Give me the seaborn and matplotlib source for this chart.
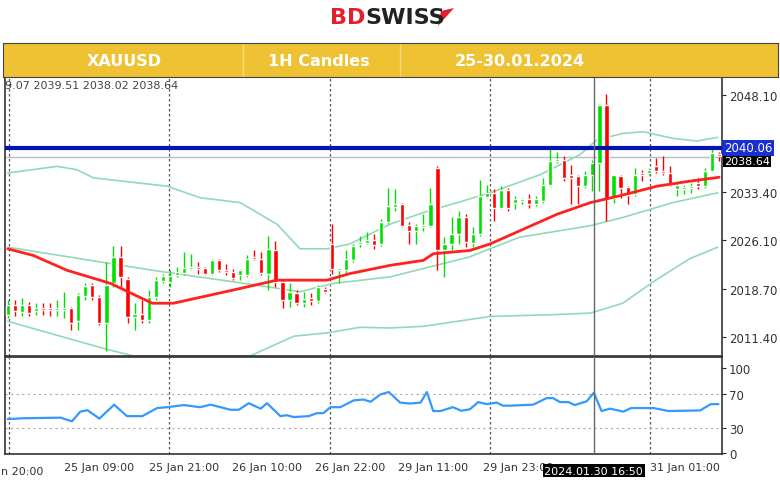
import numpy as np
import pandas as pd
import matplotlib
matplotlib.use("Agg")
import matplotlib.pyplot as plt
from matplotlib.patches import Polygon
import seaborn as sns

# hourly candles
opens = [2014.75, 2016.25, 2015.1, 2016.25, 2015.25, 2015.85, 2015.85, 2015.5, 2015.5, 2015.75,
         2013.75, 2017.6, 2019.25, 2017.5, 2013.5, 2019.5, 2023.5, 2020.1, 2014.4, 2014.9,
         2014.0, 2017.5, 2019.9, 2019.75, 2020.75, 2021.15, 2021.75, 2021.9, 2021.85, 2021.0,
         2023.1, 2021.6, 2021.25, 2020.75, 2020.85, 2023.5, 2023.25, 2021.0, 2024.5, 2019.75,
         2017.0, 2018.1, 2016.6, 2017.25, 2016.9, 2018.6, 2025.5, 2021.5, 2021.5, 2023.1,
         2025.5, 2025.6, 2026.1, 2025.5, 2028.75, 2031.15, 2031.6, 2028.4, 2027.4, 2028.1,
         2028.25, 2037.0, 2024.5, 2025.5, 2027.0, 2029.5, 2025.6, 2027.0, 2032.6, 2033.25,
         2031.0, 2033.6, 2031.75, 2032.0, 2032.25, 2031.5, 2032.0, 2034.5, 2038.0, 2038.25,
         2036.0, 2035.75, 2034.25, 2035.9, 2037.75, 2046.5, 2032.5, 2035.75, 2034.1, 2033.0,
         2036.25, 2036.25, 2037.25, 2036.5, 2036.25, 2033.75, 2033.75, 2034.0, 2034.75, 2034.25,
         2036.6, 2039.1]
closes = [2016.25, 2015.25, 2016.25, 2015.0, 2015.75, 2015.5, 2015.5, 2015.85, 2015.85, 2013.5,
          2017.75, 2019.1, 2017.4, 2013.5, 2019.25, 2023.5, 2020.5, 2014.4, 2014.9, 2014.0,
          2017.5, 2020.0, 2020.6, 2020.6, 2021.25, 2021.85, 2021.9, 2021.65, 2021.0, 2023.0,
          2021.5, 2021.2, 2020.4, 2021.5, 2023.25, 2023.25, 2021.1, 2024.75, 2019.75, 2017.0,
          2018.25, 2016.5, 2017.15, 2016.9, 2019.0, 2018.25, 2021.75, 2021.9, 2023.15, 2025.25,
          2025.75, 2026.1, 2025.4, 2028.75, 2031.25, 2031.5, 2028.25, 2027.4, 2028.25, 2028.4,
          2031.5, 2024.5, 2025.5, 2027.0, 2029.5, 2025.75, 2027.0, 2032.75, 2033.25, 2031.0,
          2033.6, 2031.0, 2032.25, 2032.25, 2031.6, 2032.25, 2034.5, 2038.0, 2038.4, 2035.5,
          2035.5, 2034.25, 2036.0, 2037.75, 2046.5, 2032.25, 2035.9, 2034.0, 2032.9, 2036.0,
          2035.9, 2036.75, 2036.5, 2036.25, 2034.5, 2034.5, 2034.1, 2034.35, 2034.25, 2036.6,
          2039.25, 2038.75]
highs = [2017.0, 2017.0, 2017.25, 2016.75, 2016.5, 2016.5, 2016.5, 2017.0, 2018.25, 2016.0,
         2018.0, 2019.5, 2019.5, 2017.75, 2022.75, 2025.25, 2025.25, 2020.5, 2016.5, 2017.0,
         2018.5, 2020.5, 2021.0, 2021.5, 2022.0, 2024.25, 2024.0, 2022.75, 2022.0, 2023.25,
         2023.25, 2022.5, 2021.75, 2021.75, 2023.75, 2024.5, 2024.25, 2026.75, 2026.0, 2020.0,
         2019.5, 2018.5, 2018.25, 2018.0, 2019.25, 2019.0, 2028.5, 2021.9, 2024.5, 2025.5,
         2026.75, 2027.25, 2027.0, 2029.25, 2034.0, 2033.75, 2031.75, 2028.75, 2028.5, 2030.0,
         2034.0, 2037.25, 2026.5, 2029.5, 2030.5, 2030.0, 2028.0, 2035.25, 2034.5, 2033.75,
         2034.25, 2034.0, 2032.75, 2032.5, 2033.0, 2032.75, 2035.5, 2040.0, 2039.5, 2038.75,
         2037.5, 2036.0, 2036.5, 2038.25, 2046.75, 2048.25, 2036.0, 2036.0, 2034.25, 2037.0,
         2036.75, 2037.0, 2038.5, 2038.75, 2037.25, 2034.75, 2034.5, 2034.75, 2035.5, 2037.0,
         2040.0, 2039.5]
lows = [2014.25, 2014.5, 2014.5, 2014.5, 2014.75, 2014.75, 2014.5, 2014.5, 2014.25, 2012.5,
        2012.5, 2017.0, 2017.0, 2013.25, 2009.25, 2019.0, 2019.0, 2013.5, 2012.5, 2013.5,
        2013.5, 2017.0, 2019.5, 2019.0, 2020.5, 2020.75, 2021.5, 2021.0, 2020.75, 2020.75,
        2021.25, 2020.75, 2020.0, 2020.0, 2020.5, 2023.0, 2020.75, 2018.5, 2019.0, 2015.75,
        2016.0, 2016.25, 2016.0, 2016.25, 2016.5, 2018.0, 2021.0, 2019.5, 2021.0, 2022.75,
        2025.0, 2025.5, 2024.75, 2025.25, 2028.5, 2030.5, 2028.0, 2025.5, 2025.5, 2027.5,
        2028.0, 2021.5, 2020.5, 2024.5, 2025.5, 2025.0, 2025.0, 2026.75, 2032.5, 2029.0,
        2030.75, 2030.5, 2030.75, 2031.5, 2031.0, 2031.25, 2031.75, 2034.25, 2037.75, 2035.0,
        2031.5, 2031.5, 2034.0, 2033.5, 2033.5, 2029.0, 2031.75, 2032.5, 2031.5, 2032.75,
        2035.0, 2036.0, 2036.25, 2036.0, 2034.25, 2032.75, 2033.0, 2033.25, 2033.75, 2034.0,
        2036.5, 2038.1]

# indicator curves (candle index, value)
ma_idx = [0, 3.6, 8.4, 14.6, 20.5, 23.5, 32, 38.2, 45.3, 48.6, 54.3, 59, 60.4, 65.6, 68.5, 78, 82.7, 87.3, 92.2, 96.8, 101]
ma_val = [2024.75, 2023.75, 2021.5, 2019.5, 2016.5, 2016.5, 2018.5, 2020, 2020, 2021, 2022.25, 2023, 2024, 2024.5, 2025.5, 2030, 2031.75, 2032.9, 2034.25, 2035, 2035.6]
up_idx = [0, 7, 9.8, 12.2, 22.6, 27.3, 33, 38.2, 41.5, 45.3, 48.6, 54.3, 59, 63.8, 68.5, 75.6, 81.2, 83.6, 87.3, 90.2, 94.4, 97.8, 100.8]
up_val = [2036.25, 2037.25, 2036.75, 2035.5, 2034.25, 2032.5, 2031.75, 2028.5, 2024.75, 2024.75, 2025.5, 2028.5, 2030.25, 2031.75, 2033.25, 2036, 2039, 2041.25, 2042.25, 2042.5, 2041.5, 2041.1, 2041.65]
mid_idx = [0, 20.5, 32, 41.5, 46.2, 54.3, 65.5, 72.6, 82.7, 87.3, 94.4, 100.8]
mid_val = [2025, 2021.5, 2019.75, 2018.25, 2019.5, 2020.5, 2023.5, 2026.5, 2028.25, 2029.5, 2031.75, 2033.25]
low_idx = [0, 14.1, 17.9, 34.4, 40.6, 45.3, 50, 54.3, 59, 68.5, 77, 82.7, 87.3, 92, 96.8, 100.8]
low_val = [2013.75, 2009.5, 2008.5, 2008.5, 2011.5, 2012, 2012.85, 2012.75, 2013, 2014.5, 2014.75, 2015, 2016.5, 2020, 2023.25, 2025]

rsi_idx = [0, 2.1, 7.5, 9.1, 10.3, 11.3, 13, 15.1, 16.9, 19.1, 21.2, 22.6, 25, 27.3, 28.8, 31.6, 32.8, 34.2,
           35.9, 36.8, 38.7, 39.6, 40.6, 42.7, 43.9, 44.8, 45.8, 47.2, 49.1, 50.5, 51.5, 52.9, 54.1,
           55.7, 57.1, 58.6, 59.5, 60.4, 61.4, 63.2, 64.4, 65.6, 66.8, 68, 69.4, 70.3, 71.3, 74.6,
           76.5, 77.4, 78.4, 79.6, 80.5, 82.2, 83.2, 84.3, 85.5, 87.4, 88.5, 91.7, 93.8, 98.3, 99.8, 100.9]
rsi_val = [40, 41, 41.7, 37.4, 48.8, 50.5, 40.6, 57, 43.5, 43.5, 53, 54, 56.5, 54, 57, 51, 51, 58.7,
           52.3, 58.7, 43.5, 44.6, 42.4, 43.5, 47, 47, 54, 54, 62, 63, 60.4, 69, 71.8,
           59.4, 58.3, 59.4, 71.8, 49.5, 49.5, 54, 49.8, 51.6, 60, 57.6, 59.4, 55.8, 55.8, 57,
           64.7, 64.7, 60, 60, 56.5, 61, 71, 49.5, 52.3, 48.8, 53, 53, 49.5, 50.2, 57.6, 57.6]

price_ticks = [2048.10, 2033.40, 2026.10, 2018.70, 2011.40]
date_ticks = [8.0, 20.0, 31.9, 43.6, 55.4, 67.5, 91.2]
date_labels = ["25 Jan 09:00", "25 Jan 21:00", "26 Jan 10:00", "26 Jan 22:00",
               "29 Jan 11:00", "29 Jan 23:00", "31 Jan 01:00"]
last_price, level = 2038.64, 2040.06
cross_idx = 83.2

sns.set_style("white")
plt.rcParams['font.family'] = ['DejaVu Sans']
W, H = 780, 485
fig = plt.figure(figsize=(7.8, 4.85), dpi=100)

def rect(x0, y0, x1, y1):
    return [x0 / W, 1 - y1 / H, (x1 - x0) / W, (y1 - y0) / H]

XL = (-0.4, 101.4)
ax = fig.add_axes(rect(5, 78, 722, 357))
rax = fig.add_axes(rect(5, 358, 722, 455))

# candles
df = pd.DataFrame({"o": opens, "c": closes, "h": highs, "l": lows})
df["i"] = np.arange(len(df))
df["col"] = np.where(df.c >= df.o, "#00e000", "#ff0000")
ax.vlines(df.i, df.l, df.h, colors=df.col, lw=1, zorder=3)
body = (df.c - df.o).abs().clip(lower=0.3)
ax.bar(df.i, body, bottom=np.minimum(df.o, df.c), width=0.6, color=df.col, zorder=4)

band = "#93d9b4"
for xs, ys in [(up_idx, up_val), (mid_idx, mid_val), (low_idx, low_val)]:
    sns.lineplot(x=xs, y=ys, ax=ax, color=band, lw=1.2, zorder=2)
sns.lineplot(x=ma_idx, y=ma_val, ax=ax, color="#ff2020", lw=2, zorder=5)

ax.axhline(level, color="#0015b0", lw=3, zorder=6)
ax.axhline(last_price, color="#b8bcc8", lw=1, zorder=1)
for xv in [0.1, 22.9, 45.8, 68.5, 91.2]:
    ax.axvline(xv, color="#555555", ls=(0, (2, 2)), lw=0.9, zorder=1)
    rax.axvline(xv, color="#555555", ls=(0, (2, 2)), lw=0.9, zorder=1)
ax.axvline(cross_idx, color="#666666", lw=1, zorder=7)
rax.axvline(cross_idx, color="#666666", lw=1, zorder=7)

ax.set_xlim(*XL)
ax.set_ylim(2008.5, 2050.8)
ax.yaxis.tick_right()
ax.set_yticks(price_ticks)
ax.set_yticklabels([f"{v:.2f}" for v in price_ticks], fontsize=8.5, color="#333333")
ax.set_xticks([])
ax.tick_params(axis="y", length=3, pad=2)
ax.text(1.003, (level - 2008.5) / 42.3, f"{level:.2f}", transform=ax.transAxes, fontsize=8.5,
        color="white", va="center", ha="left", zorder=10,
        bbox=dict(boxstyle="square,pad=0.15", fc="#1a2fd0", ec="none"))
ax.text(1.003, (last_price - 2008.5) / 42.3 - 0.012, f"{last_price:.2f}", transform=ax.transAxes,
        fontsize=8, color="white", va="center", ha="left", zorder=9,
        bbox=dict(boxstyle="square,pad=0.1", fc="black", ec="none"))
ax.text(0.0, 0.99, "9.07 2039.51 2038.02 2038.64", transform=ax.transAxes, fontsize=8,
        color="#444444", va="top", ha="left")

# RSI pane
sns.lineplot(x=rsi_idx, y=rsi_val, ax=rax, color="#3399ff", lw=1.6)
for lv in (70, 30):
    rax.axhline(lv, color="#aaaaaa", ls=(0, (2, 3)), lw=0.8)
rax.set_xlim(*XL)
rax.set_ylim(-1, 113)
rax.yaxis.tick_right()
rax.set_yticks([0, 30, 70, 100])
rax.set_yticklabels(["0", "30", "70", "100"], fontsize=8.5, color="#333333")
rax.tick_params(axis="y", length=3, pad=2)
rax.set_xticks(date_ticks)
rax.set_xticklabels(date_labels, fontsize=8, color="#333333", ha="left")
rax.tick_params(axis="x", length=3, pad=3)
rax.text(-0.005, -0.12, "n 20:00", transform=rax.transAxes, fontsize=8, color="#333333",
         va="top", ha="left")
rax.text(cross_idx, -0.12, "2024.01.30 16:50", transform=rax.get_xaxis_transform(), fontsize=8,
         color="white", va="top", ha="center", zorder=10,
         bbox=dict(boxstyle="square,pad=0.15", fc="black", ec="none"))

for a in (ax, rax):
    for s in a.spines.values():
        s.set_color("#333333")
        s.set_linewidth(1.2)

# header logo
fig.text(0.468, 1 - 18 / H, "BD", color="#e3202a", fontsize=16, fontweight="bold", ha="right", va="center")
fig.text(0.468, 1 - 18 / H, "SWISS", color="#222222", fontsize=16, fontweight="bold", ha="left", va="center")
fig.patches.append(Polygon([[438 / W, 1 - 27 / H], [454 / W, 1 - 9 / H], [441 / W, 1 - 12 / H]],
                           closed=True, transform=fig.transFigure, fc="#e3202a", ec="none"))

hax = fig.add_axes(rect(3, 44, 778, 78))
hax.set_xlim(0, W)
hax.set_ylim(0, 1)
hax.set_facecolor("#efc233")
hax.set_xticks([])
hax.set_yticks([])
for s in hax.spines.values():
    s.set_color("#444444")
for xs in (242, 400):
    hax.axvline(xs, color="#f6d980", lw=1)
for xt, t in [(122, "XAUUSD"), (318, "1H Candles"), (520, "25-30.01.2024")]:
    hax.text(xt, 0.5, t, color="white", fontsize=11.5, fontweight="bold", ha="center", va="center")

fig.savefig("out.png", dpi=100)
